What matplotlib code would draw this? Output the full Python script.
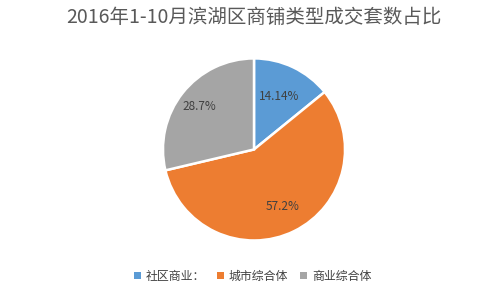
import numpy as np
import matplotlib.pyplot as plt
from matplotlib.patches import Patch

plt.rcParams['font.family'] = ['Noto Sans CJK SC', 'DejaVu Sans']

labels = ['社区商业：', '城市综合体', '商业综合体']
values = [14.14, 57.2, 28.7]
pct_text = ['14.14%', '57.2%', '28.7%']
colors = ['#5B9BD5', '#ED7D31', '#A5A5A5']

fig = plt.figure(figsize=(5, 2.98), dpi=100)
fig.patch.set_facecolor('white')

ax = fig.add_axes([0.324, 0.19, 0.368, 0.617])
wedges, _ = ax.pie(values, colors=colors, startangle=90, counterclock=False,
                   wedgeprops=dict(edgecolor='white', linewidth=1.8))
ax.set_xlim(-1.01, 1.01)
ax.set_ylim(-1.01, 1.01)
ax.set_aspect('equal')

# label positions as fraction of radius
dists = [0.64, 0.7, 0.76]
for w, t, d in zip(wedges, pct_text, dists):
    ang = np.deg2rad((w.theta1 + w.theta2) / 2)
    ax.text(d * np.cos(ang), d * np.sin(ang), t, ha='center', va='center',
            fontsize=8.5, color='#404040')

fig.text(0.507, 0.94, '2016年1-10月滨湖区商铺类型成交套数占比', ha='center', va='center',
         fontsize=14, color='#595959')

handles = [Patch(facecolor=c, edgecolor='none') for c in colors]
fig.legend(handles, labels, loc='center', bbox_to_anchor=(0.505, 0.073), ncol=3,
           frameon=False, fontsize=8.6, handlelength=0.6, handleheight=0.6,
           handletextpad=0.4, columnspacing=1.0, labelcolor='#404040')

fig.savefig('out.png', dpi=100)
